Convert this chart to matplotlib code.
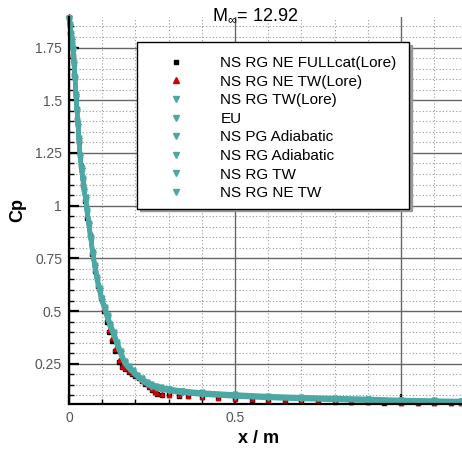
"""Cp along the body at M = 12.92 -- Lore reference vs. the in-house NS/EU runs."""
import matplotlib
matplotlib.use("Agg")
import matplotlib.pyplot as plt
from matplotlib.lines import Line2D
from matplotlib.ticker import MultipleLocator, FormatStrFormatter

plt.rcParams["font.family"] = ["Liberation Sans", "DejaVu Sans"]
plt.rcParams["mathtext.fontset"] = "custom"
plt.rcParams["mathtext.rm"] = "Liberation Sans"

TITLE = r"M$_{\infty}$= 12.92"

# Lore reference curves (black / red)
x_lore = [0.000, 0.004, 0.008, 0.012, 0.016, 0.020, 0.025, 0.030, 0.036, 0.042,
          0.048, 0.055, 0.062, 0.070, 0.078, 0.086, 0.095, 0.104, 0.113, 0.122,
          0.131, 0.140, 0.150, 0.160, 0.170, 0.180, 0.190, 0.200, 0.210, 0.220,
          0.230, 0.240, 0.250, 0.258, 0.266, 0.280, 0.300, 0.330, 0.360, 0.400,
          0.450, 0.500, 0.550, 0.600, 0.650, 0.700, 0.750, 0.800, 0.850, 0.900,
          0.950, 1.000, 1.050, 1.100, 1.150, 1.180]
cp_fullcat_lore = [1.89, 1.82, 1.77, 1.71, 1.62, 1.52, 1.41, 1.30, 1.19, 1.10,
                   1.02, 0.94, 0.86, 0.77, 0.69, 0.62, 0.56, 0.50, 0.45, 0.40,
                   0.36, 0.31, 0.26, 0.236, 0.224, 0.212, 0.202, 0.192, 0.182, 0.170,
                   0.156, 0.141, 0.126, 0.114, 0.108, 0.104, 0.101, 0.098, 0.095, 0.091,
                   0.087, 0.083, 0.080, 0.077, 0.075, 0.073, 0.071, 0.070, 0.068, 0.067,
                   0.066, 0.065, 0.064, 0.063, 0.062, 0.062]
cp_ne_tw_lore = [1.90, 1.83, 1.78, 1.72, 1.63, 1.53, 1.42, 1.31, 1.20, 1.11,
                 1.03, 0.95, 0.87, 0.78, 0.70, 0.63, 0.57, 0.51, 0.46, 0.41,
                 0.37, 0.32, 0.27, 0.240, 0.228, 0.216, 0.206, 0.196, 0.186, 0.174,
                 0.160, 0.145, 0.130, 0.118, 0.111, 0.106, 0.103, 0.100, 0.097, 0.093,
                 0.089, 0.085, 0.082, 0.079, 0.077, 0.075, 0.073, 0.072, 0.070, 0.069,
                 0.067, 0.066, 0.065, 0.064, 0.063, 0.063]

# in-house runs (all teal)
x_runs = [0.000, 0.003, 0.006, 0.009, 0.012, 0.015, 0.018, 0.021, 0.024, 0.027,
          0.030, 0.034, 0.038, 0.042, 0.046, 0.050, 0.055, 0.060, 0.066, 0.072,
          0.078, 0.085, 0.092, 0.100, 0.108, 0.116, 0.125, 0.135, 0.145, 0.156,
          0.168, 0.180, 0.193, 0.206, 0.220, 0.234, 0.248, 0.262, 0.276, 0.300,
          0.340, 0.400, 0.500, 0.600, 0.700, 0.800, 0.900, 1.000, 1.100, 1.180]
cp_rg_tw_lore = [1.88, 1.84, 1.80, 1.77, 1.73, 1.66, 1.59, 1.51, 1.44, 1.37,
                 1.30, 1.22, 1.16, 1.11, 1.06, 1.02, 0.96, 0.90, 0.83, 0.76,
                 0.70, 0.64, 0.59, 0.54, 0.50, 0.46, 0.42, 0.38, 0.335, 0.29,
                 0.250, 0.227, 0.207, 0.187, 0.168, 0.153, 0.141, 0.134, 0.128, 0.120,
                 0.111, 0.103, 0.094, 0.087, 0.082, 0.078, 0.074, 0.070, 0.067, 0.065]
cp_eu = [1.89, 1.86, 1.82, 1.79, 1.75, 1.68, 1.61, 1.53, 1.46, 1.39,
         1.32, 1.24, 1.18, 1.13, 1.08, 1.04, 0.98, 0.92, 0.85, 0.78,
         0.72, 0.66, 0.61, 0.56, 0.52, 0.48, 0.44, 0.40, 0.355, 0.31,
         0.262, 0.238, 0.218, 0.198, 0.180, 0.165, 0.153, 0.146, 0.140, 0.132,
         0.123, 0.114, 0.105, 0.097, 0.092, 0.088, 0.084, 0.079, 0.076, 0.074]
cp_pg_adiabatic = [1.89, 1.85, 1.81, 1.78, 1.74, 1.67, 1.60, 1.52, 1.45, 1.38,
                   1.31, 1.23, 1.17, 1.12, 1.07, 1.03, 0.97, 0.91, 0.84, 0.77,
                   0.71, 0.65, 0.60, 0.55, 0.51, 0.47, 0.43, 0.39, 0.345, 0.30,
                   0.256, 0.234, 0.214, 0.194, 0.176, 0.161, 0.149, 0.142, 0.136, 0.128,
                   0.119, 0.111, 0.102, 0.094, 0.089, 0.085, 0.081, 0.076, 0.073, 0.071]
cp_rg_adiabatic = [1.89, 1.85, 1.81, 1.78, 1.74, 1.67, 1.60, 1.52, 1.45, 1.38,
                   1.31, 1.23, 1.17, 1.12, 1.07, 1.03, 0.97, 0.91, 0.84, 0.77,
                   0.71, 0.65, 0.60, 0.55, 0.51, 0.47, 0.43, 0.39, 0.345, 0.30,
                   0.255, 0.233, 0.213, 0.193, 0.175, 0.160, 0.148, 0.141, 0.135, 0.127,
                   0.118, 0.110, 0.101, 0.093, 0.088, 0.084, 0.080, 0.075, 0.072, 0.070]
cp_rg_tw = [1.89, 1.85, 1.81, 1.78, 1.74, 1.67, 1.60, 1.52, 1.45, 1.38,
            1.31, 1.23, 1.17, 1.12, 1.07, 1.03, 0.97, 0.91, 0.84, 0.77,
            0.71, 0.65, 0.60, 0.55, 0.51, 0.47, 0.43, 0.39, 0.345, 0.30,
            0.252, 0.230, 0.210, 0.190, 0.171, 0.156, 0.144, 0.137, 0.131, 0.123,
            0.114, 0.106, 0.097, 0.090, 0.085, 0.081, 0.077, 0.073, 0.070, 0.068]
cp_rg_ne_tw = [1.89, 1.85, 1.81, 1.78, 1.74, 1.67, 1.60, 1.52, 1.45, 1.38,
               1.31, 1.23, 1.17, 1.12, 1.07, 1.03, 0.97, 0.91, 0.84, 0.77,
               0.71, 0.65, 0.60, 0.55, 0.51, 0.47, 0.43, 0.39, 0.345, 0.30,
               0.253, 0.231, 0.211, 0.191, 0.172, 0.157, 0.145, 0.138, 0.132, 0.124,
               0.115, 0.107, 0.098, 0.091, 0.086, 0.082, 0.078, 0.074, 0.071, 0.069]

LABELS = ["NS RG NE FULLcat(Lore)", "NS RG NE TW(Lore)", "NS RG TW(Lore)", "EU",
          "NS PG Adiabatic", "NS RG Adiabatic", "NS RG TW", "NS RG NE TW"]

TEAL = "#4BA8A5"
RED = "#D40000"

fig = plt.figure(figsize=(4.62, 4.5), dpi=100)
ax = fig.add_axes([69 / 462, 46 / 450, 1 - 69 / 462, 387 / 450])

ax.plot(x_lore, cp_fullcat_lore, ls="none", marker="s", ms=2.5, color="black",
        clip_on=False, zorder=3)
ax.plot(x_lore, cp_ne_tw_lore, ls="none", marker="^", ms=3, color=RED,
        clip_on=False, zorder=3)
for cp in (cp_rg_tw_lore, cp_eu, cp_pg_adiabatic, cp_rg_adiabatic, cp_rg_tw, cp_rg_ne_tw):
    ax.plot(x_runs, cp, ls="-", lw=3, marker="v", ms=3.5, color=TEAL,
            clip_on=False, zorder=4)

ax.set_xlim(0, 1.184)
ax.set_ylim(0.059, 1.895)

ax.xaxis.set_major_locator(MultipleLocator(0.5))
ax.xaxis.set_minor_locator(MultipleLocator(0.1))
ax.yaxis.set_major_locator(MultipleLocator(0.25))
ax.yaxis.set_minor_locator(MultipleLocator(0.05))
ax.yaxis.set_major_formatter(FormatStrFormatter("%g"))
ax.set_xticks([0, 0.5, 1.0])
ax.set_xticklabels(["0", "0.5", ""])

ax.grid(True, which="major", color="#666666", lw=1.0, ls="-", zorder=0)
ax.grid(True, which="minor", color="#999999", lw=0.8, ls=(0, (1, 2)), zorder=0)

for s in ("top", "right"):
    ax.spines[s].set_visible(False)
for s in ("left", "bottom"):
    ax.spines[s].set_color("black")
    ax.spines[s].set_linewidth(1.6)
    ax.spines[s].set_zorder(5)

ax.tick_params(which="major", direction="in", length=7, width=1.6, color="black",
               labelsize=10, labelcolor="#555555", pad=5)
ax.tick_params(which="minor", direction="in", length=3.5, width=1.0, color="black")

ax.set_xlabel("x / m", fontsize=13, fontweight="bold")
ax.xaxis.set_label_coords(0.483, -0.066)
ax.set_ylabel("Cp", fontsize=13, fontweight="bold")
ax.yaxis.set_label_coords(-0.108, 0.5)

fig.text(255 / 462, 1 - 15 / 450, TITLE, ha="center", va="center", fontsize=13)

handles = [
    Line2D([], [], ls="none", marker="s", ms=3, color="black"),
    Line2D([], [], ls="none", marker="^", ms=4, color=RED),
] + [Line2D([], [], ls="none", marker="v", ms=4.5, color=TEAL) for _ in range(6)]

leg = ax.legend(handles, LABELS, loc="upper left",
                bbox_to_anchor=(0.173, 0.935, 0.692, 0.0), mode="expand",
                fontsize=11, frameon=True, fancybox=False,
                shadow={"color": "0.6", "alpha": 1.0},
                title=" ", title_fontsize=1,
                borderpad=0.55, labelspacing=0.3, handlelength=4.0,
                handletextpad=0.9, borderaxespad=0.0)
leg.get_frame().set_edgecolor("black")
leg.get_frame().set_linewidth(1.0)
leg.set_zorder(6)

fig.savefig("out.png", dpi=100, facecolor="white")
